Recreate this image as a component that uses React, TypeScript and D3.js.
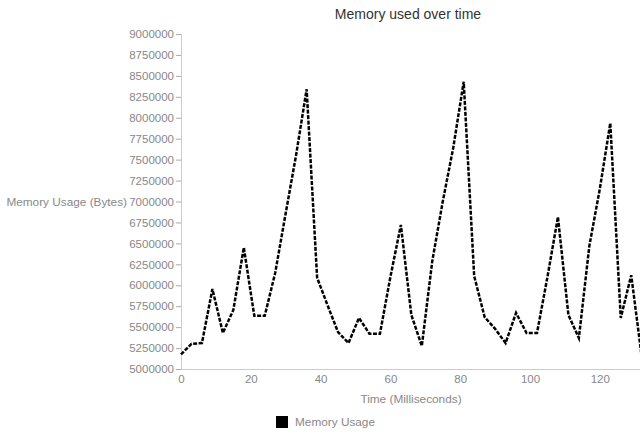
import * as React from 'react';
import * as d3 from 'd3';

// sample times (ms) and memory readings (bytes)
const timesMs = [0, 3, 6, 9, 12, 15, 18, 21, 24, 27, 30, 33, 36, 39, 42, 45, 48, 51, 54, 57, 60, 63, 66,
    69, 72, 75, 78, 81, 84, 87, 90, 93, 96, 99, 102, 105, 108, 111, 114, 117, 120, 123, 126, 129, 132];
const memoryBytes = [5175000, 5300000, 5310000, 5955000, 5430000, 5705000, 6450000, 5635000, 5635000,
    6150000, 6860000, 7560000, 8340000, 6090000, 5760000, 5440000, 5310000, 5610000, 5420000, 5420000,
    6100000, 6720000, 5645000, 5275000, 6290000, 7000000, 7640000, 8430000, 6110000, 5620000, 5480000,
    5310000, 5670000, 5430000, 5430000, 6100000, 6815000, 5645000, 5370000, 6470000, 7150000, 7935000,
    5610000, 6120000, 5150000];
const yTicks = [5000000, 5250000, 5500000, 5750000, 6000000, 6250000, 6500000, 6750000, 7000000,
    7250000, 7500000, 7750000, 8000000, 8250000, 8500000, 8750000, 9000000];
const xTicks = [0, 20, 40, 60, 80, 100, 120];
const seriesName = 'Memory Usage';

const width = 640;
const height = 434;
const plot = { left: 181, top: 34, bottom: 369, right: 641.7 };
const font = 'Liberation Sans, Arial, sans-serif';
const labelColor = '#888';

interface Point { t: number; v: number; }

class MemoryChart extends React.Component<object, object> {
    private node: SVGSVGElement | null = null;

    render() {
        return <svg
            ref={node => { this.node = node; }}
            width={width}
            height={height}
            style={{ position: 'absolute', left: 0, top: 0, background: '#fff' }}>
        </svg>;
    }

    componentDidMount() {
        this.draw();
    }

    private draw() {
        const svg = d3.select(this.node);
        svg.selectAll('*').remove();

        const data: Point[] = timesMs.map((t, i) => ({ t, v: memoryBytes[i] }));

        const x = d3.scaleLinear().domain([0, 132]).range([plot.left, plot.right]);
        const y = d3.scaleLinear().domain([5000000, 9000000]).range([plot.bottom, plot.top]);

        // title
        svg.append('text')
            .attr('x', 408)
            .attr('y', 19)
            .attr('text-anchor', 'middle')
            .attr('font-family', font)
            .attr('font-size', 14)
            .attr('fill', '#333')
            .text('Memory used over time');

        // y axis
        const yAxis = svg.append('g')
            .attr('transform', `translate(${plot.left},0)`)
            .call(d3.axisLeft(y).tickValues(yTicks).tickFormat(d3.format('d')).tickSize(5).tickPadding(2));
        yAxis.select('.domain').attr('stroke', '#ccc');
        yAxis.selectAll('.tick line').attr('stroke', '#aaa');
        yAxis.selectAll('.tick text')
            .attr('font-family', font)
            .attr('font-size', 11.5)
            .attr('fill', labelColor);

        // x axis
        const xAxis = svg.append('g')
            .attr('transform', `translate(0,${plot.bottom})`)
            .call(d3.axisBottom(x).tickValues(xTicks).tickSize(0).tickPadding(6));
        xAxis.select('.domain').attr('stroke', '#ccc');
        xAxis.selectAll('.tick text')
            .attr('font-family', font)
            .attr('font-size', 11.5)
            .attr('fill', labelColor);

        // axis titles
        svg.append('text')
            .attr('x', 127)
            .attr('y', 206)
            .attr('text-anchor', 'end')
            .attr('font-family', font)
            .attr('font-size', 11.8)
            .attr('fill', labelColor)
            .text('Memory Usage (Bytes)');

        svg.append('text')
            .attr('x', 411)
            .attr('y', 403)
            .attr('text-anchor', 'middle')
            .attr('font-family', font)
            .attr('font-size', 11.8)
            .attr('fill', labelColor)
            .text('Time (Milliseconds)');

        // line
        svg.append('path')
            .datum(data)
            .attr('fill', 'none')
            .attr('stroke', '#000')
            .attr('stroke-width', 2.5)
            .attr('stroke-dasharray', '4,1.5')
            .attr('stroke-linejoin', 'miter')
            .attr('d', d3.line<Point>()
                .x(d => x(d.t))
                .y(d => y(d.v)));

        // legend
        const legend = svg.append('g').attr('transform', 'translate(276,416)');
        legend.append('rect')
            .attr('width', 12)
            .attr('height', 12)
            .attr('fill', '#000');
        legend.append('text')
            .attr('x', 19)
            .attr('y', 10)
            .attr('font-family', font)
            .attr('font-size', 11.8)
            .attr('fill', labelColor)
            .text(seriesName);
    }
}

export default function App() {
    return <MemoryChart />;
}
